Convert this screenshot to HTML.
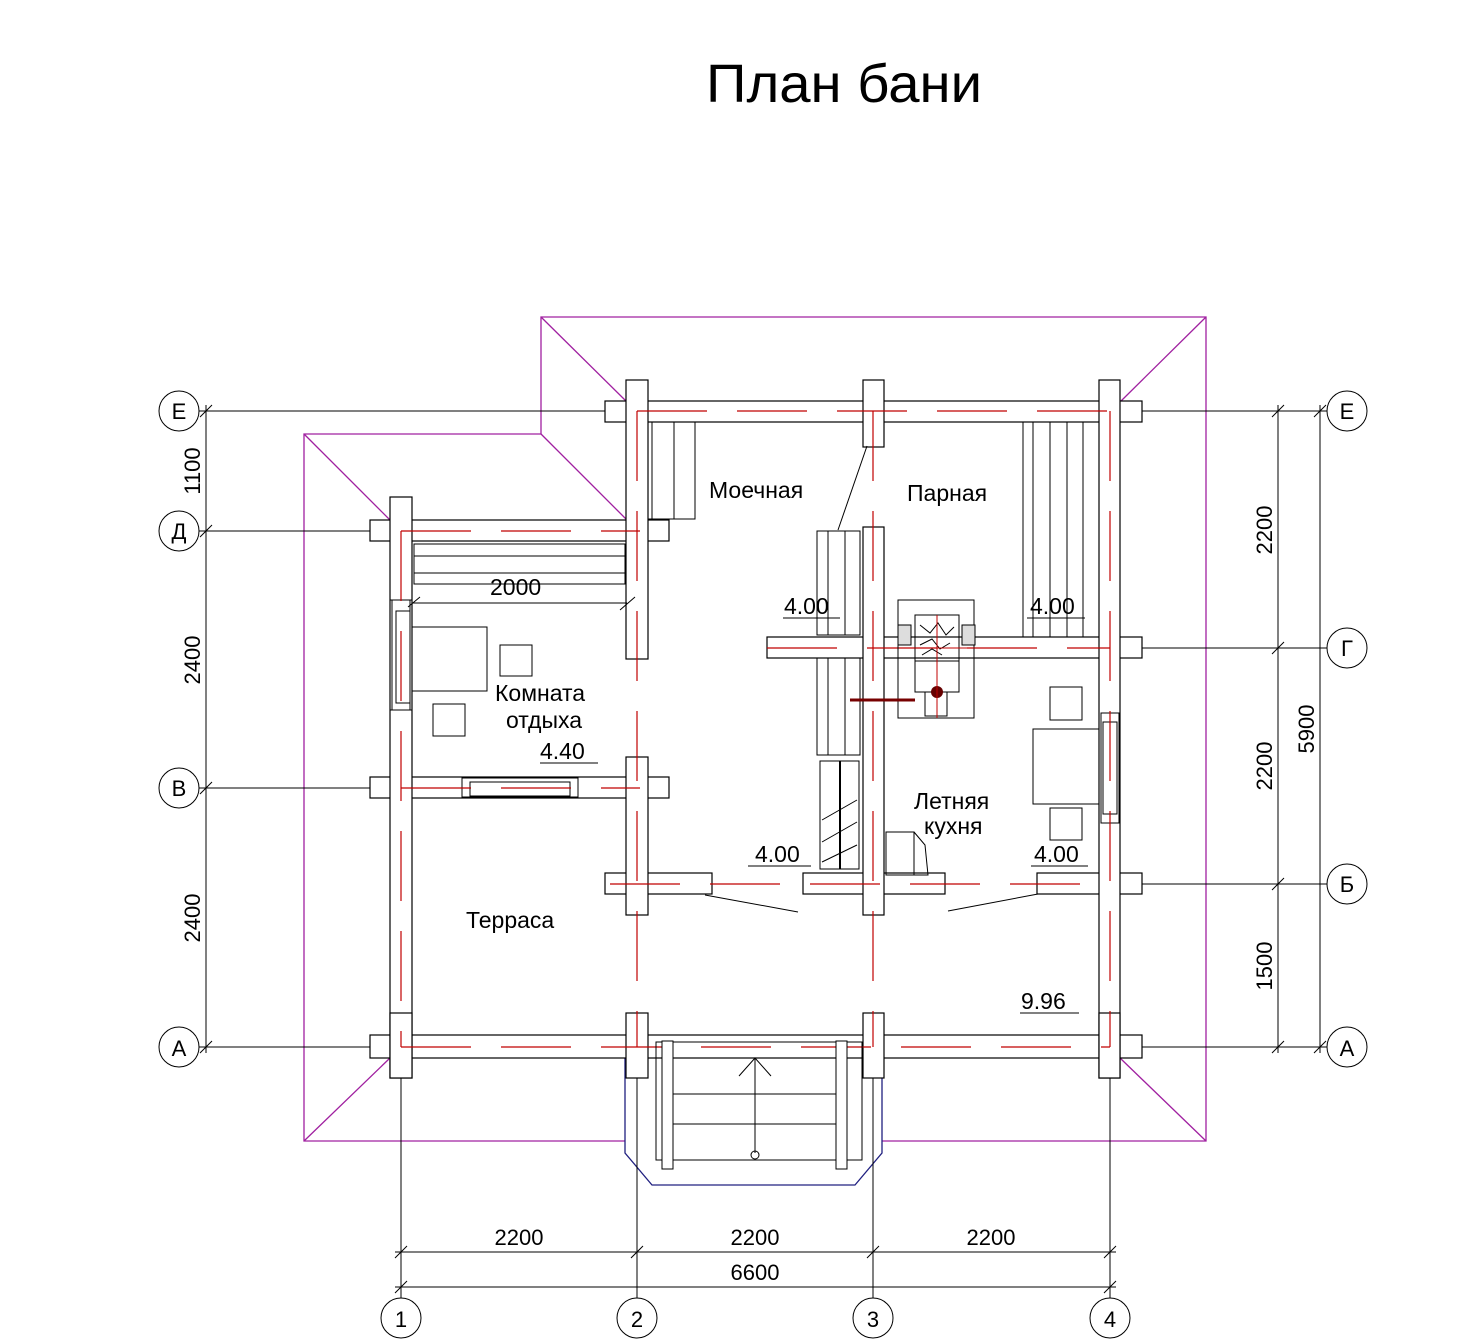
<!DOCTYPE html>
<html><head><meta charset="utf-8"><style>
body{margin:0;background:#fff}
svg{display:block}
text{font-family:"Liberation Sans","DejaVu Sans",sans-serif;fill:#000}
</style></head><body>
<svg width="1480" height="1340" viewBox="0 0 1480 1340" xmlns="http://www.w3.org/2000/svg">
<text x="706" y="102" font-size="54" textLength="276" lengthAdjust="spacingAndGlyphs">План бани</text>

<!-- roof -->
<g fill="none" stroke="#a020a0" stroke-width="1.3">
<polyline points="625,1141 304,1141 304,434 541,434 541,317 1206,317 1206,1141 882,1141"/>
<line x1="304" y1="434" x2="390" y2="520"/><line x1="541" y1="434" x2="627" y2="520"/>
<line x1="541" y1="317" x2="627" y2="402"/><line x1="1206" y1="317" x2="1120" y2="402"/>
<line x1="304" y1="1141" x2="390" y2="1058"/><line x1="1206" y1="1141" x2="1120" y2="1058"/>
</g>
<polyline points="625,1058 625,1153 652,1185 855,1185 882,1153 882,1058" fill="none" stroke="#202080" stroke-width="1.3"/>

<!-- axis & dim lines -->
<g stroke="#000" stroke-width="1" fill="none">
<line x1="199" y1="411" x2="605" y2="411"/><line x1="1142" y1="411" x2="1327" y2="411"/>
<line x1="199" y1="531" x2="370" y2="531"/>
<line x1="199" y1="788" x2="370" y2="788"/>
<line x1="1142" y1="648" x2="1327" y2="648"/>
<line x1="1142" y1="884" x2="1327" y2="884"/>
<line x1="199" y1="1047" x2="370" y2="1047"/><line x1="1142" y1="1047" x2="1327" y2="1047"/>
<line x1="401" y1="1078" x2="401" y2="1298"/><line x1="637" y1="1078" x2="637" y2="1298"/>
<line x1="873" y1="1078" x2="873" y2="1298"/><line x1="1110" y1="1078" x2="1110" y2="1298"/>
<line x1="206" y1="405" x2="206" y2="1053"/>
<line x1="1278" y1="405" x2="1278" y2="1053"/>
<line x1="1320" y1="405" x2="1320" y2="1053"/>
<line x1="395" y1="1252" x2="1116" y2="1252"/>
<line x1="395" y1="1287" x2="1116" y2="1287"/>
<g stroke-width="1">
<line x1="200" y1="417" x2="212" y2="405"/><line x1="200" y1="537" x2="212" y2="525"/><line x1="200" y1="794" x2="212" y2="782"/><line x1="200" y1="1053" x2="212" y2="1041"/>
<line x1="1272" y1="417" x2="1284" y2="405"/><line x1="1272" y1="654" x2="1284" y2="642"/><line x1="1272" y1="890" x2="1284" y2="878"/><line x1="1272" y1="1053" x2="1284" y2="1041"/>
<line x1="1314" y1="417" x2="1326" y2="405"/><line x1="1314" y1="1053" x2="1326" y2="1041"/>
<line x1="395" y1="1258" x2="407" y2="1246"/><line x1="631" y1="1258" x2="643" y2="1246"/><line x1="867" y1="1258" x2="879" y2="1246"/><line x1="1104" y1="1258" x2="1116" y2="1246"/>
<line x1="395" y1="1293" x2="407" y2="1281"/><line x1="1104" y1="1293" x2="1116" y2="1281"/>
</g>
<circle cx="179" cy="411" r="20"/><circle cx="179" cy="531" r="20"/><circle cx="179" cy="788" r="20"/><circle cx="179" cy="1047" r="20"/>
<circle cx="1347" cy="411" r="20"/><circle cx="1347" cy="648" r="20"/><circle cx="1347" cy="884" r="20"/><circle cx="1347" cy="1047" r="20"/>
<circle cx="401" cy="1318" r="20"/><circle cx="637" cy="1318" r="20"/><circle cx="873" cy="1318" r="20"/><circle cx="1110" cy="1318" r="20"/>
</g>
<g font-size="22" text-anchor="middle">
<text x="179" y="419">Е</text><text x="179" y="539">Д</text><text x="179" y="796">В</text><text x="179" y="1056">А</text>
<text x="1347" y="419">Е</text><text x="1347" y="656">Г</text><text x="1347" y="892">Б</text><text x="1347" y="1056">А</text>
<text x="401" y="1327">1</text><text x="637" y="1327">2</text><text x="873" y="1327">3</text><text x="1110" y="1327">4</text>
<text x="519" y="1245">2200</text><text x="755" y="1245">2200</text><text x="991" y="1245">2200</text><text x="755" y="1280">6600</text>
<text transform="translate(200,471) rotate(-90)">1100</text>
<text transform="translate(200,660) rotate(-90)">2400</text>
<text transform="translate(200,918) rotate(-90)">2400</text>
<text transform="translate(1272,530) rotate(-90)">2200</text>
<text transform="translate(1272,766) rotate(-90)">2200</text>
<text transform="translate(1272,966) rotate(-90)">1500</text>
<text transform="translate(1314,729) rotate(-90)">5900</text>
</g>

<!-- walls -->
<g fill="#fff" stroke="#000" stroke-width="1.2">
<rect x="605" y="401" width="537" height="21"/>
<rect x="370" y="520" width="299" height="21"/>
<rect x="370" y="777" width="299" height="21"/>
<rect x="767" y="637" width="375" height="21"/>
<rect x="605" y="873" width="107" height="21"/>
<rect x="803" y="873" width="142" height="21"/>
<rect x="1037" y="873" width="105" height="21"/>
<rect x="370" y="1035" width="772" height="23"/>
<rect x="390" y="497" width="22" height="581"/>
<rect x="626" y="380" width="22" height="279"/>
<rect x="626" y="757" width="22" height="158"/>
<rect x="863" y="380" width="21" height="67"/>
<rect x="863" y="527" width="21" height="388"/>
<rect x="1099" y="380" width="21" height="698"/>
<rect x="626" y="1013" width="22" height="65"/>
<rect x="863" y="1013" width="21" height="65"/>
<rect x="390" y="1013" width="22" height="65"/>
<rect x="1099" y="1013" width="21" height="65"/>
</g>
<g fill="#fff" stroke="none">
<rect x="391" y="521" width="20" height="19"/><rect x="391" y="778" width="20" height="19"/>
<rect x="627" y="402" width="20" height="19"/><rect x="627" y="521" width="20" height="19"/><rect x="627" y="638" width="20" height="19"/><rect x="627" y="778" width="20" height="19"/><rect x="627" y="874" width="20" height="19"/>
<rect x="864" y="402" width="19" height="19"/><rect x="864" y="638" width="19" height="19"/><rect x="864" y="874" width="19" height="19"/>
<rect x="1100" y="402" width="19" height="19"/><rect x="1100" y="638" width="19" height="19"/><rect x="1100" y="874" width="19" height="19"/>
<rect x="391" y="1036" width="20" height="21"/><rect x="627" y="1036" width="20" height="21"/><rect x="864" y="1036" width="19" height="21"/><rect x="1100" y="1036" width="19" height="21"/>
<rect x="391" y="600" width="20" height="110"/><rect x="1100" y="713" width="19" height="110"/>
<rect x="468" y="778" width="110" height="19"/>
</g>
<g fill="none" stroke="#000" stroke-width="1">
<rect x="392" y="600" width="18" height="110"/><rect x="396" y="611" width="14" height="92"/><line x1="390" y1="600" x2="412" y2="600"/><line x1="390" y1="710" x2="412" y2="710"/>
<rect x="1101" y="713" width="18" height="110"/><rect x="1103" y="722" width="14" height="92"/>
<rect x="462" y="778" width="116" height="19"/><rect x="470" y="782" width="100" height="14"/>
</g>
<g stroke="#c00000" stroke-width="1.2" stroke-dasharray="70,30">
<line x1="637" y1="411" x2="1120" y2="411"/><line x1="637" y1="411" x2="637" y2="1047"/>
<line x1="401" y1="531" x2="640" y2="531"/><line x1="401" y1="531" x2="401" y2="1047"/>
<line x1="401" y1="788" x2="640" y2="788"/><line x1="767" y1="648" x2="1110" y2="648"/>
<line x1="873" y1="411" x2="873" y2="1047"/><line x1="1110" y1="411" x2="1110" y2="1047"/>
<line x1="610" y1="884" x2="1110" y2="884"/><line x1="401" y1="1047" x2="1110" y2="1047"/>
</g>
<g fill="none" stroke="#000" stroke-width="1">
<rect x="648" y="422" width="47" height="97"/><line x1="652" y1="422" x2="652" y2="519"/><line x1="674" y1="422" x2="674" y2="519"/>
<rect x="414" y="544" width="211" height="40"/><line x1="414" y1="556" x2="625" y2="556"/><line x1="414" y1="573" x2="625" y2="573"/>
<line x1="412" y1="603" x2="627" y2="603"/><line x1="408" y1="607" x2="420" y2="597"/><line x1="620" y1="610" x2="635" y2="597"/>
<rect x="412" y="627" width="75" height="64"/><rect x="500" y="645" width="32" height="31"/><rect x="433" y="704" width="32" height="32"/>
<line x1="540" y1="763" x2="598" y2="763"/>
<rect x="817" y="531" width="43" height="104"/><line x1="828" y1="531" x2="828" y2="635"/><line x1="845" y1="531" x2="845" y2="635"/>
<rect x="817" y="658" width="43" height="97"/><line x1="828" y1="658" x2="828" y2="755"/><line x1="845" y1="658" x2="845" y2="755"/>
<rect x="820" y="761" width="39" height="108"/><line x1="840" y1="761" x2="840" y2="869" stroke-width="2"/>
<line x1="822" y1="820" x2="857" y2="800"/><line x1="822" y1="842" x2="857" y2="822"/><line x1="822" y1="862" x2="857" y2="845"/>
<line x1="838" y1="530" x2="867" y2="446"/>
<rect x="1023" y="422" width="76" height="215"/><line x1="1033" y1="422" x2="1033" y2="637"/><line x1="1050" y1="422" x2="1050" y2="637"/><line x1="1067" y1="422" x2="1067" y2="637"/><line x1="1083" y1="422" x2="1083" y2="637"/>
<rect x="898" y="600" width="76" height="118"/><rect x="915" y="615" width="44" height="77"/><line x1="915" y1="661" x2="959" y2="661"/>
<rect x="925" y="692" width="22" height="24"/>
<rect x="898" y="625" width="13" height="20" fill="#ddd"/><rect x="962" y="625" width="13" height="20" fill="#ddd"/>
<path d="M920 625 l10 8 l8 -10 l8 12 l8 -8 M920 645 l12 -6 l8 10 l10 -6 M922 655 l10 -6 l10 6" />
<line x1="850" y1="700" x2="915" y2="700" stroke="#700" stroke-width="3"/>
<rect x="886" y="832" width="28" height="43"/><polyline points="914,832 925,845 928,875 914,875"/>
<rect x="1050" y="687" width="32" height="33"/><rect x="1033" y="729" width="66" height="75"/><rect x="1050" y="808" width="32" height="32"/>
<line x1="705" y1="895" x2="798" y2="912"/><line x1="948" y1="911" x2="1038" y2="894"/>
<line x1="783" y1="618" x2="840" y2="618"/><line x1="1027" y1="618" x2="1085" y2="618"/>
<line x1="748" y1="866" x2="811" y2="866"/><line x1="1031" y1="866" x2="1088" y2="866"/>
<line x1="1020" y1="1013" x2="1079" y2="1013"/>
<rect x="656" y="1042" width="206" height="118"/>
<rect x="662" y="1041" width="11" height="128" fill="#fff"/><rect x="836" y="1041" width="11" height="128" fill="#fff"/>
<line x1="673" y1="1094" x2="836" y2="1094"/><line x1="673" y1="1124" x2="836" y2="1124"/>
<line x1="755" y1="1058" x2="755" y2="1153"/><polyline points="739,1076 755,1058 771,1076"/><circle cx="755" cy="1155" r="4"/>
</g>
<circle cx="937" cy="692" r="6" fill="#600"/>
<g stroke="#c00000" stroke-width="1"><line x1="937" y1="615" x2="937" y2="718"/><line x1="900" y1="648" x2="975" y2="648"/></g>

<g font-size="23">
<text x="709" y="498">Моечная</text>
<text x="907" y="501">Парная</text>
<text x="495" y="701">Комната</text>
<text x="506" y="728">отдыха</text>
<text x="540" y="759">4.40</text>
<text x="490" y="595">2000</text>
<text x="784" y="614">4.00</text>
<text x="1030" y="614">4.00</text>
<text x="914" y="809">Летняя</text>
<text x="924" y="834">кухня</text>
<text x="755" y="862">4.00</text>
<text x="1034" y="862">4.00</text>
<text x="466" y="928">Терраса</text>
<text x="1021" y="1009">9.96</text>
</g>
</svg>
</body></html>
